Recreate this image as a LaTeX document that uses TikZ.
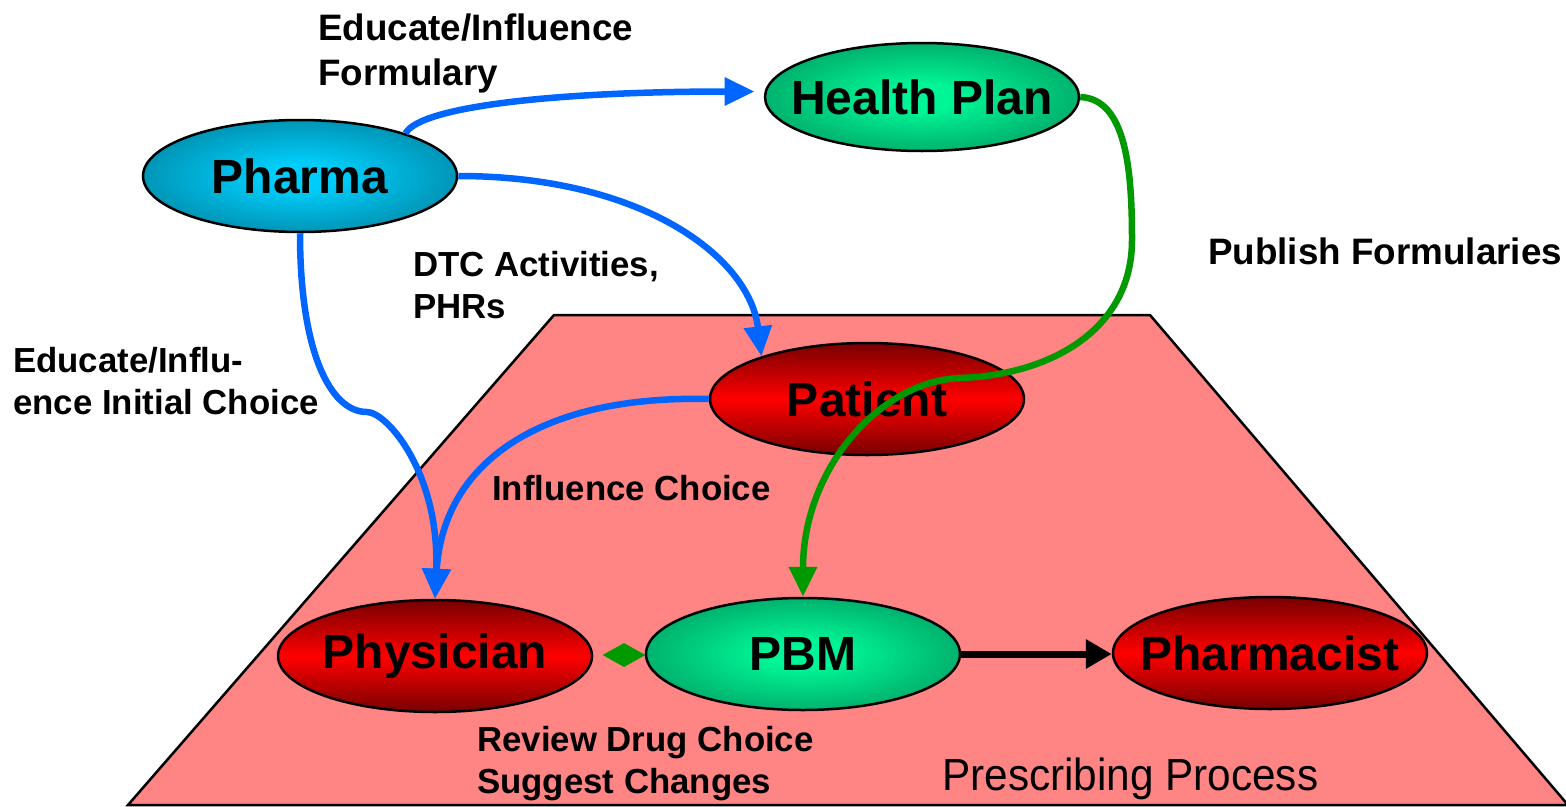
\documentclass[tikz,border=0pt]{standalone}
\usepackage{graphicx}
\usepackage{fontspec}
\setmainfont{Liberation Sans}
\usetikzlibrary{shapes.geometric,arrows.meta}
\definecolor{arrblue}{RGB}{0,102,255}
\definecolor{arrgreen}{RGB}{0,153,0}
\definecolor{trapfill}{RGB}{255,132,132}
\definecolor{tealin}{RGB}{0,205,250}
\definecolor{tealout}{RGB}{0,88,108}
\definecolor{grnin}{RGB}{0,245,150}
\definecolor{grnout}{RGB}{0,105,65}
\definecolor{redmid}{RGB}{255,0,0}
\definecolor{reddark}{RGB}{120,0,0}
\pgfdeclareradialshading{tealglow}{\pgfpoint{0bp}{0bp}}{color(0bp)=(tealin); color(6bp)=(tealin); color(46bp)=(tealout); color(72bp)=(tealout)}
\pgfdeclareradialshading{greenglow}{\pgfpoint{0bp}{0bp}}{color(0bp)=(grnin); color(6bp)=(grnin); color(46bp)=(grnout); color(72bp)=(grnout)}
\newcommand{\ztext}[1]{\makebox[0pt]{#1}}
\tikzset{
  ell/.style={ellipse, draw=black, line width=2.5pt, minimum width=314pt, minimum height=112pt,
    inner sep=0pt, font=\fontsize{48}{56}\selectfont\bfseries},
  tealell/.style={ell, shading=tealglow},
  greenell/.style={ell, shading=greenglow},
  redell/.style={ell, top color=reddark, bottom color=reddark, middle color=redmid},
  lbl/.style={anchor=base west, inner sep=0pt, align=left, font=\fontsize{34.8}{42}\selectfont\bfseries},
  biglbl/.style={lbl, font=\fontsize{36.8}{45}\selectfont\bfseries},
  bluarrow/.style={draw=arrblue, line width=6.5pt, -{Triangle[length=30pt,width=27pt]}},
  grnarrow/.style={draw=arrgreen, line width=6.5pt, -{Triangle[length=30pt,width=27pt]}},
  blkarrow/.style={draw=black, line width=7pt, -{Triangle[length=26pt,width=28pt]}},
}
\begin{document}
\begin{tikzpicture}[x=1pt,y=-1pt]
\useasboundingbox (0,0) rectangle (1566,806);
% trapezoid
\draw[fill=trapfill, line width=2.5pt, line join=miter] (554,315) -- (1150,315) -- (1568,805) -- (128,805) -- cycle;
% nodes
\node[tealell] (pharma) at (300,176) {\ztext{Pharma}};
\node[greenell, minimum height=108pt] (health) at (922,97) {\ztext{Health Plan}};
\node[redell] (patient) at (867,399) {\ztext{Patient}};
\node[redell] (physician) at (435,656) {\ztext{Physician}};
\node[greenell] (pbm) at (803,654) {\ztext{PBM}};
\node[redell] (pharmacist) at (1270,653) {\ztext{Pharmacist}};
\node[diamond, fill=arrgreen, minimum width=43pt, minimum height=24pt, inner sep=0pt] (link) at (624,655) {};
% labels
\node[biglbl] (l1) at (318,85) {Educate/Influence\\Formulary};
\node[lbl] (l2) at (413,318) {DTC Activities,\\PHRs};
\node[lbl] (l3) at (13,414) {Educate/Influ-\\ence Initial Choice};
\node[lbl] (l4) at (492,500) {Influence Choice};
\node[biglbl] (l5) at (1208,264) {Publish Formularies};
\node[lbl] (l6) at (477,793) {Review Drug Choice\\Suggest Changes};
\node[anchor=base west, inner sep=0pt, font=\fontsize{45}{50}\selectfont] (pp) at (942,790) {\scalebox{0.94}[1]{Prescribing Process}};
% connectors
\draw[bluarrow, shorten >=10pt] (pharma.22) .. controls +(15,-28) and +(-200,0) .. (health.178);
\draw[bluarrow] (pharma.east) .. controls +(183,0) and +(-12,-100) .. (patient.158);
\coordinate (kink) at (367,412);
\draw[bluarrow] (pharma.south) .. controls +(0,118) and +(-37,0) .. (kink) .. controls +(20,0) and +(5,-125) .. (physician.north);
\draw[bluarrow] (patient.west) .. controls +(-170,-4) and +(8,-135) .. (physician.north);
\coordinate (g1) at (1132,240);
\coordinate (g2) at (960,378);
\draw[grnarrow] (health.east) .. controls +(46,2) and +(0,-70) .. (g1) .. controls +(0,90) and +(90,-3) .. (g2) .. controls +(-80,3) and +(0,-128) .. (pbm.north);
\draw[blkarrow] (pbm.east) -- (pbm.east -| pharmacist.west);
\end{tikzpicture}
\end{document}
